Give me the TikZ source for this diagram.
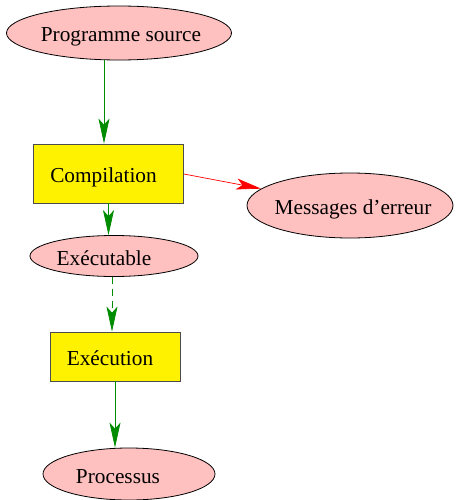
\documentclass[tikz,border=0pt]{standalone}
\usepackage{fontspec}
\setmainfont{Liberation Serif}
\usepackage{xcolor}
\usetikzlibrary{positioning, arrows.meta, shapes.geometric}

\definecolor{pinkfill}{RGB}{255,192,192}
\definecolor{arrgreen}{RGB}{0,140,0}

% label moved sideways by #1 inside its node
\newcommand{\shiftlbl}[2]{\makebox[100pt]{\kern#1\kern#1#2}}

\begin{document}
\begin{tikzpicture}[
    x=1pt, y=-1pt,
    every node/.style={font=\fontsize{21.3}{25}\selectfont, inner sep=0pt, text height=18pt, text depth=0pt},
    ell/.style={ellipse, draw=black, line width=0.8pt, fill=pinkfill},
    box/.style={rectangle, draw=black!70, line width=0.8pt, fill=yellow},
    arr/.style={-{Stealth[length=25pt, width=11pt, inset=6pt]}, draw=arrgreen, line width=0.7pt},
    errarr/.style={-{Stealth[length=25pt, width=11pt, inset=6pt]}, draw=red, line width=0.7pt},
]
    \useasboundingbox (0,0) rectangle (456,500);

    % Source
    \node[ell, minimum width=225pt, minimum height=54pt] (src) at (119,33) {\shiftlbl{2pt}{Programme source}};

    % Compilation
    \node[box, minimum width=150pt, minimum height=59pt] (comp) at (108.5,173.5) {\shiftlbl{-5pt}{Compilation}};

    % Errors
    \node[ell, minimum width=206pt, minimum height=65pt] (err) at (350,205.5) {\shiftlbl{3pt}{Messages d'erreur}};

    % Executable
    \node[ell, minimum width=168pt, minimum height=41pt] (exe) at (114,256) {\shiftlbl{-10pt}{Exécutable}};

    % Execution
    \node[box, minimum width=130pt, minimum height=49pt] (run) at (115,356.5) {\shiftlbl{-5pt}{Exécution}};

    % Process
    \node[ell, minimum width=172pt, minimum height=52pt] (proc) at (129,474) {\shiftlbl{-11pt}{Processus}};

    % Arrows
    \draw[arr] ([xshift=-15pt]src.south) -- ([xshift=-4.5pt]comp.north);
    \draw[arr] ([xshift=0pt]comp.south) -- ([xshift=-5.5pt]exe.north);
    \draw[arr, dashed, dash pattern=on 7pt off 5pt] ([xshift=-2pt]exe.south) -- ([xshift=-3pt]run.north);
    \draw[arr] ([xshift=0pt]run.south) -- ([xshift=-14pt]proc.north);
    \draw[errarr] ([yshift=-0.5pt]comp.east) -- (err);

\end{tikzpicture}
\end{document}
